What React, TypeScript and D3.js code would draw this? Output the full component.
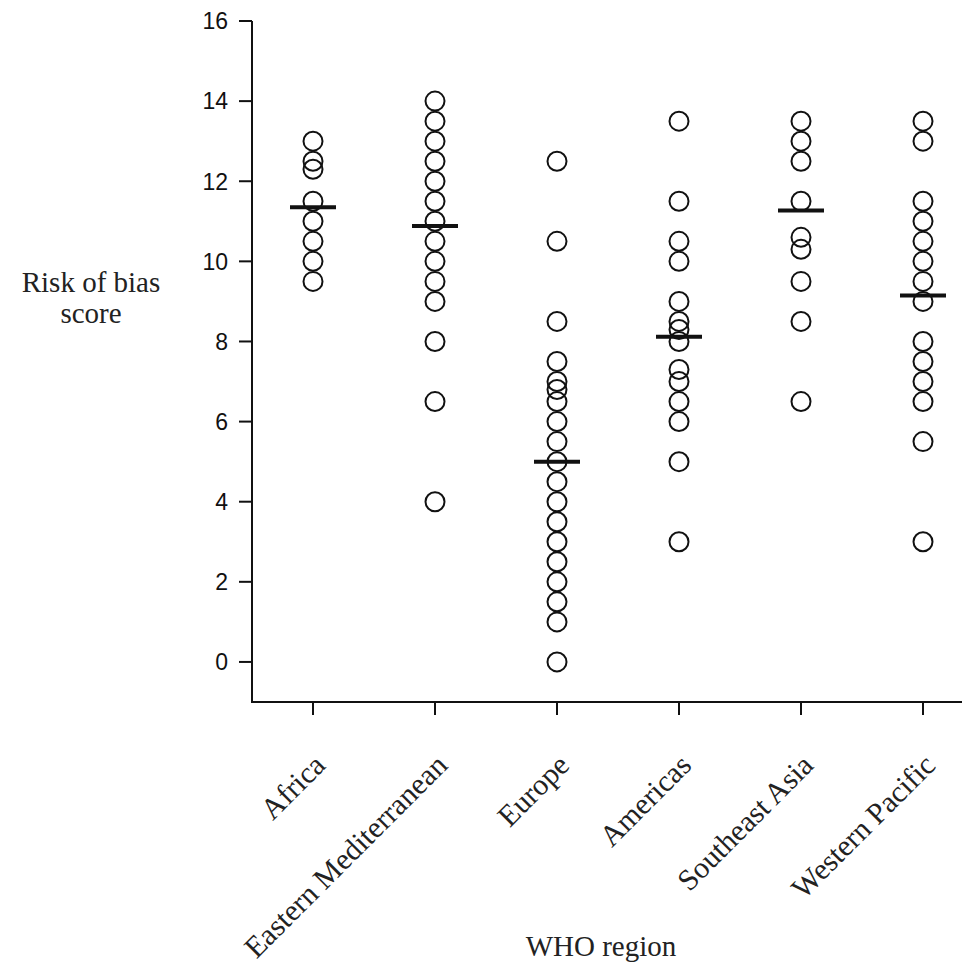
import React from "react";
import * as d3 from "d3";

const categories = ["Africa", "Eastern Mediterranean", "Europe", "Americas", "Southeast Asia", "Western Pacific"];
const africa = [13, 12.5, 12.3, 11.5, 11, 10.5, 10, 9.5];
const easternMediterranean = [14, 13.5, 13, 12.5, 12, 11.5, 11, 10.5, 10, 9.5, 9, 8, 6.5, 4];
const europe = [12.5, 10.5, 8.5, 7.5, 7, 6.8, 6.5, 6, 5.5, 5, 4.5, 4, 3.5, 3, 2.5, 2, 1.5, 1, 0];
const americas = [13.5, 11.5, 10.5, 10, 9, 8.5, 8.3, 8, 7.3, 7, 6.5, 6, 5, 3];
const southeastAsia = [13.5, 13, 12.5, 11.5, 10.6, 10.3, 9.5, 8.5, 6.5];
const westernPacific = [13.5, 13, 11.5, 11, 10.5, 10, 9.5, 9, 8, 7.5, 7, 6.5, 5.5, 3];
const centreLines = [11.35, 10.88, 5.0, 8.12, 11.27, 9.15];
const yTicks = [0, 2, 4, 6, 8, 10, 12, 14, 16];

const seriesList = [africa, easternMediterranean, europe, americas, southeastAsia, westernPacific];

const W = 965;
const H = 972;
const axisX = 252;
const axisBottom = 702;
const axisTop = 21;
const axisRight = 962;

export default function App() {
  const y = d3.scaleLinear().domain([-1, 16]).range([axisBottom, axisTop]);
  const x = d3.scalePoint<string>().domain(categories).range([313, 923]);
  const serif = "'Liberation Serif', 'Times New Roman', serif";
  const sans = "'Liberation Sans', Arial, sans-serif";

  return (
    <svg width={W} height={H} style={{ position: "absolute", left: 0, top: 0, background: "#fff" }}>
      {/* axes */}
      <line x1={axisX} y1={axisTop} x2={axisX} y2={axisBottom} stroke="#111" strokeWidth={2} />
      <line x1={axisX - 1} y1={axisBottom} x2={axisRight} y2={axisBottom} stroke="#111" strokeWidth={2} />
      {yTicks.map((t) => (
        <g key={t}>
          <line x1={axisX - 13} x2={axisX} y1={y(t)} y2={y(t)} stroke="#111" strokeWidth={2} />
          <text x={axisX - 24} y={y(t)} dy="0.36em" textAnchor="end" fontFamily={sans} fontSize={23} fill="#111">
            {t}
          </text>
        </g>
      ))}
      {categories.map((c) => (
        <g key={c}>
          <line x1={x(c)} x2={x(c)} y1={axisBottom} y2={axisBottom + 13} stroke="#111" strokeWidth={2} />
          <text
            transform={`translate(${(x(c) as number) + 14},${axisBottom + 65}) rotate(-45)`}
            textAnchor="end"
            fontFamily={serif}
            fontSize={30}
            fill="#222"
          >
            {c}
          </text>
        </g>
      ))}
      {/* points */}
      {seriesList.map((vals, i) => (
        <g key={categories[i]}>
          {vals.map((v, j) => (
            <circle key={j} cx={x(categories[i])} cy={y(v)} r={9.5} fill="none" stroke="#111" strokeWidth={2} />
          ))}
          <line
            x1={(x(categories[i]) as number) - 23}
            x2={(x(categories[i]) as number) + 23}
            y1={y(centreLines[i])}
            y2={y(centreLines[i])}
            stroke="#111"
            strokeWidth={4}
          />
        </g>
      ))}
      {/* axis titles */}
      <text x={91} y={292} textAnchor="middle" fontFamily={serif} fontSize={29} fill="#222">
        Risk of bias
      </text>
      <text x={91} y={323} textAnchor="middle" fontFamily={serif} fontSize={29} fill="#222">
        score
      </text>
      <text x={601} y={956} textAnchor="middle" fontFamily={serif} fontSize={29} fill="#222">
        WHO region
      </text>
    </svg>
  );
}
